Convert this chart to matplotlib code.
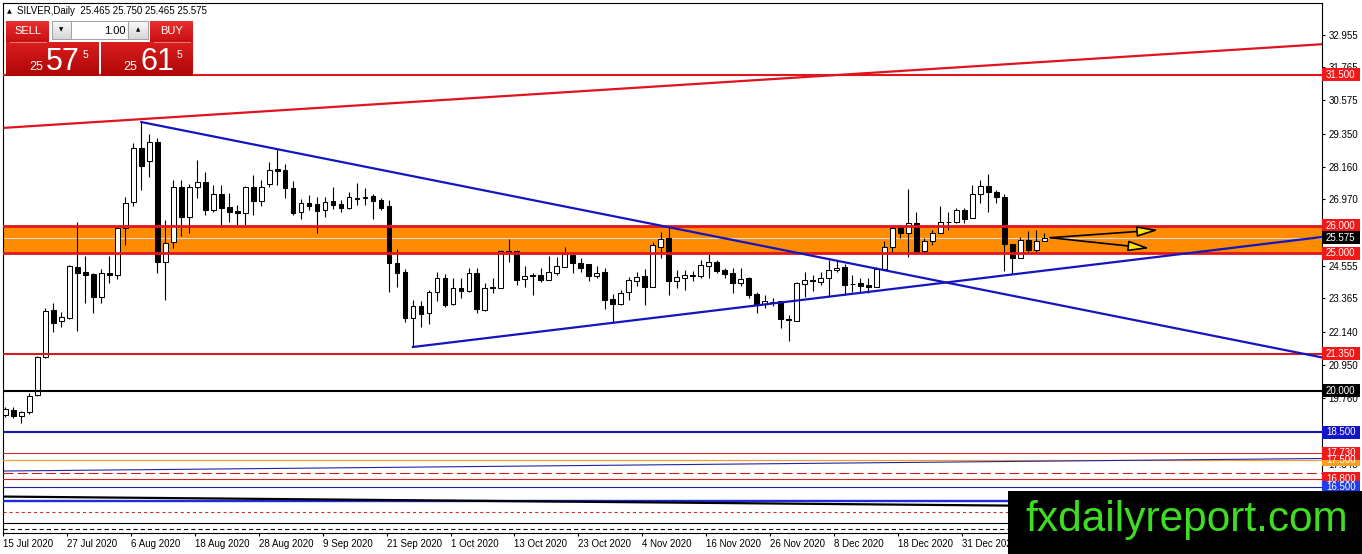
import numpy as np
import matplotlib
matplotlib.use("Agg")
import matplotlib.pyplot as plt
from matplotlib.patches import Rectangle, FancyArrowPatch
from matplotlib.colors import to_rgb

plt.rcParams['lines.scale_dashes'] = False
plt.rcParams['font.family'] = ['Liberation Sans', 'DejaVu Sans']

# ---------------- data ----------------
symbol = "SILVER,Daily"
header_ohlc = ["25.465", "25.750", "25.465", "25.575"]

opens = [19.13, 19.31, 19.09, 19.24, 19.85, 21.24, 22.95, 22.55, 22.65, 24.51,
         24.33, 24.25, 23.42, 24.29, 24.22, 25.93, 26.87, 28.84, 28.36, 29.05,
         24.69, 25.42, 27.42, 26.33, 27.42, 27.60, 26.58, 27.16, 26.69, 26.55,
         26.47, 27.42, 26.91, 27.53, 28.07, 28.04, 27.38, 26.51, 26.84, 26.80,
         26.58, 26.91, 26.80, 26.65, 27.02, 27.02, 27.09, 26.95, 26.73, 24.65,
         24.33, 22.65, 23.09, 22.84, 23.60, 24.11, 23.16, 23.75, 23.64, 24.29,
         22.95, 23.78, 23.75, 25.09, 25.09, 24.07, 24.22, 24.22, 24.04, 24.29,
         24.51, 24.95, 24.65, 24.62, 24.18, 24.33, 23.35, 23.16, 23.60, 24.00,
         24.18, 23.78, 25.24, 25.56, 24.00, 24.11, 24.18, 24.18, 24.55, 24.69,
         24.40, 24.29, 23.93, 24.11, 23.53, 23.16, 23.24, 23.27, 22.60, 22.55,
         23.89, 24.04, 23.96, 24.11, 24.40, 24.51, 23.88, 23.93, 23.85, 23.78,
         24.44, 25.24, 25.96, 25.75, 26.11, 25.09, 25.45, 25.75, 26.14, 26.15,
         26.58, 26.29, 27.16, 27.45, 27.24, 27.05, 25.35, 24.84, 25.49, 25.13,
         25.465]
highs = [19.42, 19.42, 19.27, 19.93, 21.27, 23.02, 23.20, 22.87, 24.58, 26.15,
         24.91, 24.29, 24.44, 24.91, 25.93, 27.05, 29.02, 29.78, 29.35, 29.20,
         26.22, 27.67, 27.67, 27.53, 28.40, 27.96, 27.49, 27.49, 27.20, 26.76,
         27.45, 27.85, 27.67, 28.33, 28.80, 28.25, 27.64, 26.98, 27.13, 27.05,
         27.05, 27.42, 26.95, 27.24, 27.56, 27.38, 27.16, 27.02, 26.95, 25.16,
         24.44, 23.31, 23.27, 23.67, 24.33, 24.25, 24.11, 24.11, 24.47, 24.47,
         23.93, 24.11, 25.13, 25.53, 25.13, 24.55, 24.29, 24.47, 24.91, 24.87,
         25.24, 25.05, 24.84, 24.62, 24.55, 24.47, 23.53, 23.67, 24.15, 24.33,
         24.44, 25.42, 25.78, 25.96, 24.40, 24.40, 24.36, 24.76, 24.98, 24.76,
         24.47, 24.47, 24.47, 24.15, 23.60, 23.49, 23.38, 23.27, 22.76, 23.96,
         24.33, 24.22, 24.33, 24.76, 24.76, 24.62, 24.22, 24.11, 24.11, 24.51,
         25.45, 26.04, 26.04, 27.35, 26.51, 25.56, 25.85, 26.73, 26.51, 26.65,
         26.65, 27.49, 27.67, 27.89, 27.31, 27.16, 25.35, 25.60, 25.82, 25.85,
         25.75]
lows = [19.05, 19.02, 18.84, 19.16, 19.82, 21.20, 22.15, 22.33, 22.62, 22.18,
        23.20, 22.84, 23.20, 23.93, 24.07, 25.31, 26.73, 27.31, 27.78, 24.29,
        23.31, 25.20, 25.64, 25.75, 27.02, 26.40, 26.51, 25.97, 26.15, 26.04,
        26.04, 26.40, 26.73, 27.42, 27.49, 27.02, 26.40, 26.25, 26.58, 25.75,
        26.33, 26.62, 26.51, 26.62, 26.76, 26.76, 26.25, 26.58, 23.60, 23.78,
        22.51, 21.60, 22.33, 22.44, 23.27, 23.05, 23.13, 23.38, 23.60, 22.84,
        22.91, 23.56, 23.75, 24.69, 23.85, 23.78, 23.49, 23.96, 24.04, 24.22,
        24.51, 24.29, 24.33, 24.00, 24.11, 22.98, 22.47, 23.13, 23.31, 23.82,
        23.13, 23.78, 24.84, 23.49, 23.75, 23.67, 24.00, 24.11, 24.11, 24.29,
        24.11, 23.56, 23.82, 23.38, 22.84, 23.02, 23.09, 22.29, 21.82, 22.55,
        23.42, 23.64, 23.85, 23.42, 24.33, 23.49, 23.60, 23.56, 23.56, 23.78,
        24.40, 25.05, 25.56, 24.87, 25.02, 24.98, 25.31, 25.75, 25.85, 26.11,
        26.11, 26.29, 26.84, 26.51, 26.84, 24.36, 24.25, 24.84, 25.05, 25.05,
        25.465]
closes = [19.35, 19.09, 19.24, 19.82, 21.24, 22.91, 22.47, 22.69, 24.55, 24.29,
          24.22, 23.42, 24.29, 24.22, 25.93, 26.84, 28.84, 28.18, 29.05, 24.69,
          25.38, 27.42, 26.33, 27.42, 27.60, 26.58, 27.16, 26.65, 26.51, 26.47,
          27.42, 26.91, 27.42, 28.04, 28.00, 27.38, 26.47, 26.84, 26.73, 26.55,
          26.87, 26.76, 26.65, 27.05, 26.98, 27.05, 26.91, 26.65, 24.65, 24.29,
          22.65, 23.09, 22.80, 23.60, 24.11, 23.13, 23.75, 23.64, 24.29, 22.98,
          23.75, 23.75, 25.09, 25.02, 24.04, 24.18, 24.18, 24.04, 24.33, 24.55,
          24.98, 24.65, 24.47, 24.18, 24.29, 23.31, 23.16, 23.56, 24.04, 24.15,
          23.78, 25.31, 25.53, 24.00, 24.15, 24.22, 24.20, 24.58, 24.69, 24.36,
          24.25, 23.93, 24.07, 23.49, 23.16, 23.27, 23.25, 22.62, 22.58, 23.93,
          24.04, 24.00, 24.11, 24.40, 24.47, 23.85, 23.90, 23.82, 23.78, 24.44,
          25.24, 25.93, 25.75, 26.11, 25.05, 25.45, 25.75, 26.15, 26.16, 26.58,
          26.25, 27.16, 27.45, 27.24, 27.05, 25.35, 24.84, 25.49, 25.13, 25.45,
          25.575]

date_labels = ["15 Jul 2020", "27 Jul 2020", "6 Aug 2020", "18 Aug 2020", "28 Aug 2020",
               "9 Sep 2020", "21 Sep 2020", "1 Oct 2020", "13 Oct 2020", "23 Oct 2020",
               "4 Nov 2020", "16 Nov 2020", "26 Nov 2020", "8 Dec 2020", "18 Dec 2020",
               "31 Dec 2020"]
date_label_bars = [0, 8, 16, 24, 32, 40, 48, 56, 64, 72, 80, 88, 96, 104, 112, 120]

price_ticks = [32.955, 31.765, 30.575, 29.350, 28.160, 26.970, 25.745, 24.555,
               23.365, 22.140, 20.950, 19.760, 18.535, 17.345, 16.155]

# horizontal levels
level_prices = [31.5, 26.0, 25.0, 21.35, 20.0, 18.5, 17.73, 17.5, 17.0, 16.8,
                16.5, 16.0, 15.6, 15.19, 14.97]
band_low, band_high = 25.0, 26.0
bid_price = 25.575

# trend lines (bar index, price)
channel_x, channel_y = [-0.125, 164.75], [29.57, 32.61]
desc_x, desc_y = [17, 164.75], [29.78, 21.22]
asc_x, asc_y = [51, 164.75], [21.60, 25.60]
thinblue_x, thinblue_y = [-0.125, 164.75], [17.09, 17.545]
blackslope_x, blackslope_y = [-0.125, 164.75], [16.16, 15.73]

# arrows
arrow_start = (130.75, 25.575)
arrow_ends = [(144.3, 25.855), (143.2, 25.19)]

# right-axis price labels
label_levels = [31.5, 26.0, 25.575, 25.0, 21.35, 20.0, 18.5, 17.5, 17.73, 16.8, 16.5]

# trade panel text
sell_price = ("25", "57", "5")
buy_price = ("25", "61", "5")
lot_size = "1.00"
watermark = "fxdailyreport.com"

# ---------------- styles ----------------
level_styles = [
    dict(color='#E2161B', lw=1.5, ls='-'),
    dict(color='#E2161B', lw=2.0, ls='-'),
    dict(color='#E2161B', lw=2.0, ls='-'),
    dict(color='#D21E22', lw=1.5, ls='-'),
    dict(color='#000000', lw=1.5, ls='-'),
    dict(color='#1414B4', lw=1.5, ls='-'),
    dict(color='#DC2A2A', lw=0.8, ls='-'),
    dict(color='#F0A030', lw=0.9, ls='-'),
    dict(color='#C82020', lw=0.8, ls=(0, (7.2, 3.0))),
    dict(color='#D42020', lw=0.8, ls='-'),
    dict(color='#2020B0', lw=0.8, ls='-'),
    dict(color='#1C2CDC', lw=1.7, ls='-'),
    dict(color='#D02828', lw=0.8, ls=(0, (2.2, 2.2))),
    dict(color='#000000', lw=0.8, ls='-'),
    dict(color='#000000', lw=0.8, ls=(0, (3.0, 2.2))),
]
label_colors = ['#F01818', '#F01818', '#000000', '#F01818', '#F01818', '#000000',
                '#1414C8', '#F5A020', '#F01818', '#F01818', '#1E3CF0']

W, H = 1362, 554
fig = plt.figure(figsize=(W / 100, H / 100), dpi=100)
fig.patch.set_facecolor('white')

ax_l, ax_r, ax_t, ax_b = 3, 1322, 3, 533
ax = fig.add_axes([ax_l / W, 1 - ax_b / H, (ax_r - ax_l) / W, (ax_b - ax_t) / H])
xmin, xmax = (ax_l - 4) / 8, (ax_r - 4) / 8
ymin, ymax = 14.836, 34.109
ax.set_xlim(xmin, xmax)
ax.set_ylim(ymin, ymax)
for s in ax.spines.values():
    s.set_linewidth(0.8)
    s.set_color('black')

O = np.array(opens); Hh = np.array(highs); L = np.array(lows); C = np.array(closes)
x = np.arange(len(O))
up = C >= O
bot = np.minimum(O, C)
hgt = np.maximum(np.abs(C - O), 0.012)

# band + bid line
ax.axhspan(band_low, band_high, color='#FF8C00', zorder=1, lw=0)
ax.axhline(bid_price, color='#D8D8D8', lw=0.8, zorder=1.5)

# candles
ax.vlines(x, L, Hh, color='black', lw=0.8, zorder=3)
ax.bar(x[up], hgt[up], bottom=bot[up], width=0.6, facecolor='white',
       edgecolor='black', lw=0.75, zorder=4)
ax.bar(x[~up], hgt[~up], bottom=bot[~up], width=0.6, facecolor='black',
       edgecolor='black', lw=0.75, zorder=4)

# levels
for p, st in zip(level_prices, level_styles):
    ax.axhline(p, color=st['color'], lw=st['lw'], linestyle=st['ls'], zorder=5)

# trend lines
ax.plot(channel_x, channel_y, color='#E0141E', lw=1.6, zorder=5)
ax.plot(desc_x, desc_y, color='#1515C0', lw=1.6, zorder=5)
ax.plot(asc_x, asc_y, color='#1515C0', lw=1.6, zorder=5)
ax.plot(thinblue_x, thinblue_y, color='#2424A8', lw=0.8, zorder=5)
ax.plot(blackslope_x, blackslope_y, color='#000000', lw=1.6, zorder=5)

# arrows
for end in arrow_ends:
    ar = FancyArrowPatch(arrow_start, end,
                         arrowstyle='-|>,head_length=1.3,head_width=0.32',
                         mutation_scale=10, fc='#FFE400', ec='black', lw=1.2,
                         shrinkA=0, shrinkB=0, zorder=7)
    ax.add_patch(ar)

# y axis on right
ax.yaxis.tick_right()
ax.set_yticks(price_ticks)
ax.set_yticklabels([f"{v:.3f}" for v in price_ticks])
ax.tick_params(axis='y', direction='out', length=2.5, width=0.8, pad=2,
               labelsize=7, colors='black')
ax.set_xticks([b - 0.3 for b in date_label_bars])
ax.set_xticklabels(date_labels)
for t in ax.get_xticklabels():
    t.set_ha('left')
ax.tick_params(axis='x', direction='out', length=2.5, width=0.8, pad=1.5,
               labelsize=7, colors='black')

# coloured price labels on right scale
units_per_px = (ymax - ymin) / (ax_b - ax_t)
box_h = 13 * units_per_px
trans = ax.get_yaxis_transform()
box_w = 38 / (ax_r - ax_l)
for p, col in zip(label_levels, label_colors):
    ax.add_patch(Rectangle((1.0, p - box_h / 2), box_w, box_h, transform=trans,
                           facecolor=col, edgecolor='none', clip_on=False, zorder=8))
    ax.text(1.0 + 4 / (ax_r - ax_l), p, f"{p:.3f}", transform=trans, color='white',
            fontsize=7, va='center', ha='left', clip_on=False, zorder=9)

# ---------------- overlay (panel, header, watermark) ----------------
ov = fig.add_axes([0, 0, 1, 1], zorder=10)
ov.set_xlim(0, W)
ov.set_ylim(H, 0)
ov.axis('off')
ov.patch.set_alpha(0)


def grad_rect(x0, y0, x1, y1, c_top, c_bot, edge=None):
    t = np.linspace(0, 1, 40)[:, None]
    img = (np.array(to_rgb(c_top)) * (1 - t) + np.array(to_rgb(c_bot)) * t)[:, None, :]
    ov.imshow(img, extent=(x0, x1, y1, y0), aspect='auto', interpolation='bilinear', zorder=2)
    if edge:
        ov.add_patch(Rectangle((x0, y0), x1 - x0, y1 - y0, fill=False, ec=edge, lw=0.7, zorder=3))


ov.text(7, 11.5, '▲', fontsize=4.5, va='center', ha='left', family='DejaVu Sans')
ov.text(17, 11.5, f"{symbol}  {' '.join(header_ohlc)}", fontsize=7, va='center', ha='left')

grad_rect(6, 21, 49, 42, '#E83030', '#C81010')
grad_rect(150, 21, 193, 42, '#E83030', '#C81010')
grad_rect(6, 42, 99, 76, '#DA1E1E', '#AE0606')
grad_rect(101, 42, 193, 76, '#DA1E1E', '#AE0606')
ov.plot([10, 46], [42, 42], color='#EE7A7A', lw=0.7, zorder=4)
ov.plot([154, 190], [42, 42], color='#EE7A7A', lw=0.7, zorder=4)
grad_rect(52, 21, 71, 39, '#FAFAFA', '#D6D6D6', edge='#A0A0A0')
ov.add_patch(Rectangle((71, 21), 57, 18, fc='white', ec='#A0A0A0', lw=0.7, zorder=3))
grad_rect(128, 21, 148, 39, '#FAFAFA', '#D6D6D6', edge='#A0A0A0')
ov.text(61.5, 30, '▼', fontsize=4, ha='center', va='center', family='DejaVu Sans', zorder=5)
ov.text(138, 30, '▲', fontsize=4, ha='center', va='center', family='DejaVu Sans', zorder=5)
ov.text(126, 30.5, lot_size, fontsize=8, ha='right', va='center', zorder=5)
ov.text(27.5, 31.5, 'SELL', fontsize=8, color='white', ha='center', va='center', zorder=5)
ov.text(171.5, 31.5, 'BUY', fontsize=8, color='white', ha='center', va='center', zorder=5)

for (small, big, sup), x0 in [(sell_price, 29), (buy_price, 123)]:
    ov.text(x0, 70, small, fontsize=9, color='white', ha='left', va='baseline', zorder=5)
    ov.text(x0 + 17, 70, big, fontsize=22, color='white', ha='left', va='baseline', zorder=5)
    ov.text(x0 + 54, 57.5, sup, fontsize=7.5, color='white', ha='left', va='baseline', zorder=5)

# watermark
ov.add_patch(Rectangle((1008, 491), W - 1008, H - 491, fc='black', ec='none', zorder=6))
ov.text(1025, 531.5, watermark, fontsize=30.5, color='#3FDD22', ha='left',
        va='baseline', zorder=7)

fig.savefig('out.png', dpi=100, facecolor='white')
